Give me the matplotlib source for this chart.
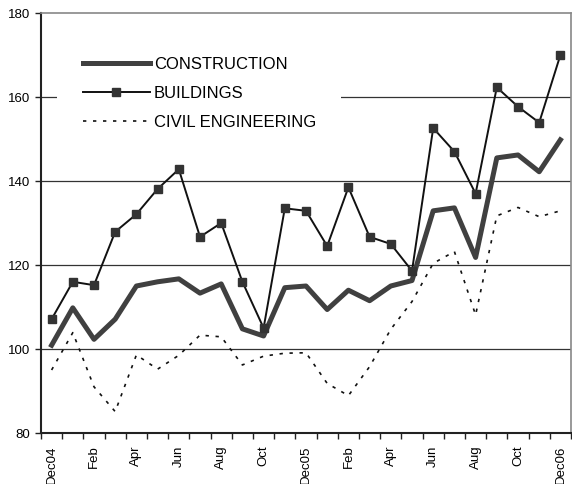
import matplotlib
matplotlib.use("Agg")
import matplotlib.pyplot as plt
from matplotlib.patches import Rectangle
import numpy as np

plt.rcParams['font.family'] = ['Liberation Sans', 'DejaVu Sans']

months = ["Dec04", "Jan", "Feb", "Mar", "Apr", "May", "Jun", "Jul", "Aug", "Sep", "Oct", "Nov",
          "Dec05", "Jan", "Feb", "Mar", "Apr", "May", "Jun", "Jul", "Aug", "Sep", "Oct", "Nov",
          "Dec06"]

construction = [100.9, 109.8, 102.3, 107.1, 115.0, 116.0, 116.7, 113.3, 115.5, 104.8, 103.1, 114.6,
                115.0, 109.4, 114.0, 111.5, 115.0, 116.3, 132.9, 133.6, 121.8, 145.5, 146.2, 142.2,
                149.8]
buildings = [107.1, 116.0, 115.2, 127.9, 132.1, 138.1, 142.8, 126.7, 130.0, 116.0, 105.0, 133.5,
             132.9, 124.5, 138.5, 126.7, 125.0, 118.6, 152.6, 147.0, 137.0, 162.3, 157.7, 153.9,
             170.0]
civil = [95.0, 103.9, 91.0, 85.1, 98.6, 95.2, 98.5, 103.3, 102.9, 96.2, 98.3, 99.0,
         99.1, 91.8, 88.9, 95.8, 104.7, 111.3, 120.4, 123.2, 108.1, 131.7, 133.7, 131.5,
         132.9]

x = np.arange(len(months))

fig = plt.figure(figsize=(5.72, 4.84), dpi=100)
ax = fig.add_axes([41 / 572, 51 / 484, 530 / 572, 420 / 484])

for y in [100, 120, 140, 160]:
    ax.axhline(y, color='#333333', lw=0.9, zorder=1)

ax.plot(x, construction, color='#404040', lw=3.6, label='CONSTRUCTION', zorder=3)
ax.plot(x, buildings, color='#111111', lw=1.4, marker='s', markersize=6,
        markerfacecolor='#333333', markeredgecolor='#333333', label='BUILDINGS', zorder=4)
ax.plot(x, civil, color='#111111', lw=1.2, linestyle=(0, (2, 4)), label='CIVIL ENGINEERING', zorder=2)

ax.set_xlim(-0.5, len(months) - 0.5)
ax.set_ylim(80, 180)
ax.set_yticks([80, 100, 120, 140, 160, 180])
ax.set_xticks(x[::2])
ax.set_xticklabels(months[::2], rotation=90)
ax.set_xticks(np.arange(-0.5, len(months), 1), minor=True)
ax.tick_params(axis='x', which='major', length=0, pad=9, labelsize=9.5)
ax.tick_params(axis='x', which='minor', length=4, width=1, color='#222222')
ax.tick_params(axis='y', length=4, width=1, color='#222222', labelsize=9.5)

for s in ['left', 'bottom']:
    ax.spines[s].set_color('#222222')
    ax.spines[s].set_linewidth(1.5)
for s in ['top', 'right']:
    ax.spines[s].set_color('#888888')
    ax.spines[s].set_linewidth(1.2)

# white legend area hiding the grid line, like the original
ax.add_patch(Rectangle((16 / 530, 290 / 420), 284 / 530, 110 / 420, transform=ax.transAxes,
                       facecolor='white', edgecolor='none', zorder=4.5))

leg = ax.legend(loc='upper left', bbox_to_anchor=(42 / 530, 376 / 420), frameon=False, fontsize=12,
                handlelength=4.0, handletextpad=0.25, labelspacing=0.85, borderpad=0,
                borderaxespad=0)
leg.set_zorder(5)

fig.savefig("out.png", dpi=100)
